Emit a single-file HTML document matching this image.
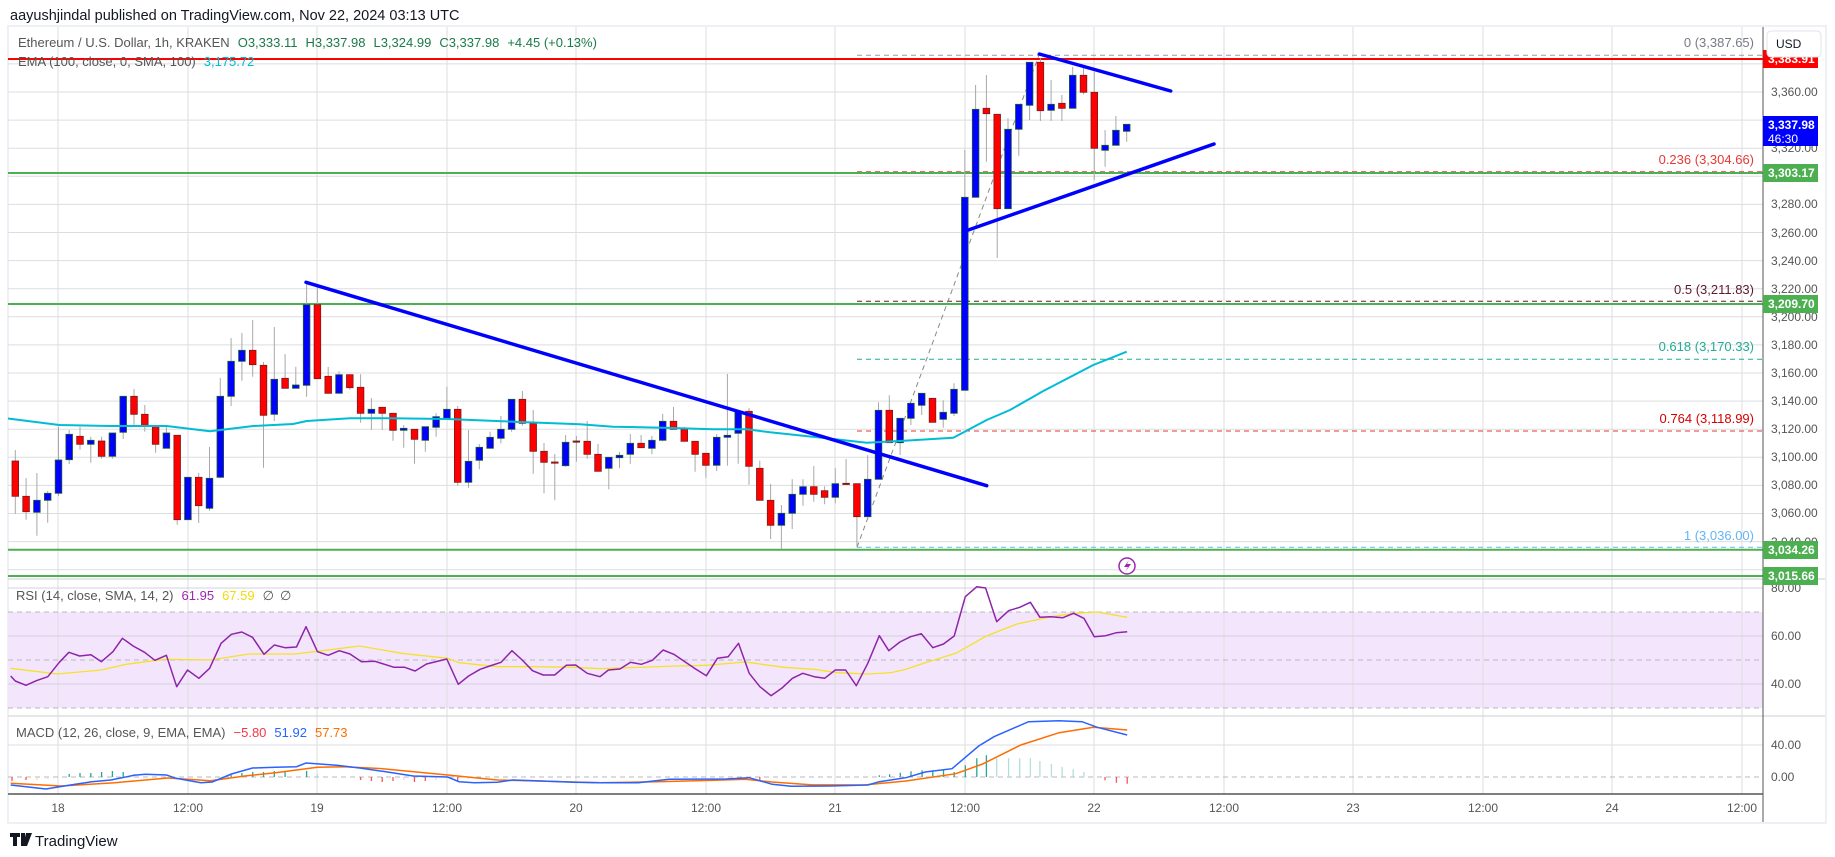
<!DOCTYPE html>
<html><head><meta charset="utf-8"><style>
html,body{margin:0;padding:0;background:#fff;width:1835px;height:857px;overflow:hidden}
svg{display:block;font-family:"Liberation Sans",sans-serif}
</style></head><body>
<svg width="1835" height="857" viewBox="0 0 1835 857" xmlns="http://www.w3.org/2000/svg">
<rect x="0" y="0" width="1835" height="857" fill="#fff"/>
<text x="10" y="20" font-size="14.5" fill="#131722">aayushjindal published on TradingView.com, Nov 22, 2024 03:13 UTC</text>
<rect x="8" y="26" width="1818" height="797" fill="#fff" stroke="#eef0f5" stroke-width="2"/>
<!-- RSI band -->
<rect x="8" y="612" width="1755" height="96" fill="#f3e6fc"/>
<!-- grid -->
<path d="M58 27V794M188 27V794M317 27V794M447 27V794M576 27V794M706 27V794M835 27V794M965 27V794M1094 27V794M1224 27V794M1353 27V794M1483 27V794M1612 27V794M1742 27V794" stroke="#dcdde0" stroke-width="1" fill="none"/>
<path d="M8 63.9H1763M8 92H1763M8 120.1H1763M8 148.2H1763M8 176.3H1763M8 204.4H1763M8 232.5H1763M8 260.6H1763M8 288.7H1763M8 316.8H1763M8 344.9H1763M8 373H1763M8 401.1H1763M8 429.2H1763M8 457.3H1763M8 485.4H1763M8 513.5H1763M8 541.6H1763M8 569.7H1763" stroke="#dcdde0" stroke-width="1" fill="none"/>
<path d="M8 579H1825M8 716H1825" stroke="#dcdde0" stroke-width="1.5"/>
<path d="M8 588H1763M8 636H1763M8 684H1763" stroke="#d3cfe0" stroke-width="1"/>
<path d="M8 612H1763M8 660H1763M8 708H1763M8 777H1763" stroke="#b8b8c0" stroke-width="1" stroke-dasharray="5,4"/>
<path d="M8 745H1763" stroke="#dcdde0" stroke-width="1"/>
<!-- fib lines -->
<g stroke-width="1" stroke-dasharray="5,4">
<line x1="857" y1="55.3" x2="1763" y2="55.3" stroke="#9a9ca4"/>
<line x1="857" y1="171.7" x2="1763" y2="171.7" stroke="#e53935"/>
<line x1="857" y1="301.3" x2="1763" y2="301.3" stroke="#5d1a2f"/>
<line x1="857" y1="359.3" x2="1763" y2="359.3" stroke="#22ab94"/>
<line x1="857" y1="431" x2="1763" y2="431" stroke="#e53935"/>
<line x1="857" y1="547.3" x2="1763" y2="547.3" stroke="#64b5f6"/>
<line x1="857" y1="547.3" x2="1039" y2="55" stroke="#888"/>
</g>
<!-- levels -->
<line x1="8" y1="59" x2="1763" y2="59" stroke="#ff0000" stroke-width="2"/>
<path d="M8 173H1763M8 304H1763M8 549.7H1763M8 576H1763" stroke="#4caf50" stroke-width="2"/>
<!-- wicks -->
<path stroke="#a8a8a8" stroke-width="1" fill="none" d="M15.3 450V514M26.1 478V519.7M36.9 473V535.7M47.7 491V522.7M58.5 426.7V496M69.2 430V464M80 426.7V449.7M90.8 436.7V462.7M101.6 436.7V458.7M112.4 433V458.7M123.2 396.3V439M134 389V425M144.8 405V431.7M155.6 426.3V452.7M166.4 425V448.3M177.2 435.3V524.7M187.9 477.3V519.7M198.7 473V523M209.5 447V510.7M220.3 378V478.3M231.1 338V406M241.9 333V380.7M252.7 320V376.7M263.5 362V467.7M274.3 327V421M285.1 354V388.3M295.8 366.7V388.3M306.6 283.3V396.7M317.4 286.7V378.7M328.2 367V393.3M339 371.3V393.3M349.8 374.7V389.7M360.6 374.3V422.7M371.4 398V430M382.2 407.3V430M393 413.3V440.7M403.7 425V447.7M414.5 429.3V463.7M425.3 426.7V451.7M436.1 413.3V436.7M446.9 386.7V418.3M457.7 406V485.7M468.5 430V487.7M479.3 444V469.3M490.1 431.7V448.3M500.9 416V443.3M511.6 399.3V431.7M522.4 391V425.7M533.2 410V473.7M544 443V493.3M554.8 454V500.3M565.6 435V466.7M576.4 436V461.7M587.2 421V458.7M598 444V471.3M608.8 457.3V489.3M619.5 452V468.3M630.3 434V463.7M641.1 435V447.7M651.9 436V454.3M662.7 413.7V441.3M673.5 407V429.3M684.3 426.7V441.3M695.1 441.3V471.7M705.9 453.3V477.7M716.7 434V471M727.4 374V465.7M738.2 410.3V463.7M749 408V484.7M759.8 460.7V500.3M770.6 484V539M781.4 505V549.3M792.2 479.3V529M803 479.3V505.7M813.8 466V501.7M824.6 486.3V504.3M835.3 468.3V503.3M846.1 459V485M856.9 483.7V546.7M867.7 455V516.7M878.5 402.3V479.3M889.3 395.3V442.7M900.1 418.3V455M910.9 403.3V425M921.7 393.3V415M932.5 398.3V422.3M943.2 400.3V427.7M954 383.3V416M964.8 150V390.3M975.6 85V197.3M986.4 75V161.7M997.2 114.3V258M1008 118.3V208.7M1018.8 104.3V155.7M1029.6 62.3V120M1040.4 58.3V121M1051.1 80V121M1061.9 95V121M1072.7 66.7V108.3M1083.5 67.3V94.3M1094.3 71.7V180M1105.1 130V166.7M1115.9 116V145.3M1126.7 124.3V141.7"/>
<!-- bullish bodies -->
<g fill="#0000ff" stroke="#1e5a2e" stroke-width="0.8">
<rect x="33.6" y="500.3" width="6.6" height="12"/>
<rect x="44.4" y="493.3" width="6.6" height="7"/>
<rect x="55.2" y="460" width="6.6" height="33.3"/>
<rect x="65.9" y="434.3" width="6.6" height="25.4"/>
<rect x="87.5" y="440.3" width="6.6" height="4"/>
<rect x="109.1" y="433" width="6.6" height="23.3"/>
<rect x="119.9" y="396.3" width="6.6" height="36"/>
<rect x="163.1" y="433" width="6.6" height="15.3"/>
<rect x="184.6" y="477.3" width="6.6" height="42.4"/>
<rect x="206.2" y="478.3" width="6.6" height="30"/>
<rect x="217" y="396.3" width="6.6" height="81"/>
<rect x="227.8" y="361.3" width="6.6" height="35"/>
<rect x="238.6" y="350.3" width="6.6" height="11"/>
<rect x="271" y="379.3" width="6.6" height="35"/>
<rect x="292.5" y="385" width="6.6" height="3.3"/>
<rect x="303.3" y="304.7" width="6.6" height="80.6"/>
<rect x="335.7" y="374.7" width="6.6" height="18.6"/>
<rect x="368.1" y="409.3" width="6.6" height="4"/>
<rect x="400.4" y="428.3" width="6.6" height="2"/>
<rect x="422" y="426.7" width="6.6" height="13.6"/>
<rect x="432.8" y="416.7" width="6.6" height="10.6"/>
<rect x="443.6" y="409.3" width="6.6" height="9"/>
<rect x="465.2" y="461.3" width="6.6" height="21"/>
<rect x="476" y="447.3" width="6.6" height="13"/>
<rect x="486.8" y="437.3" width="6.6" height="11"/>
<rect x="497.6" y="429.3" width="6.6" height="9"/>
<rect x="508.3" y="399.3" width="6.6" height="30"/>
<rect x="562.3" y="442.3" width="6.6" height="23.4"/>
<rect x="605.5" y="457.3" width="6.6" height="11"/>
<rect x="616.2" y="455.3" width="6.6" height="2.4"/>
<rect x="627" y="443.3" width="6.6" height="11"/>
<rect x="648.6" y="440.3" width="6.6" height="8"/>
<rect x="659.4" y="421.3" width="6.6" height="19"/>
<rect x="713.4" y="437.3" width="6.6" height="28"/>
<rect x="724.1" y="435.3" width="6.6" height="2"/>
<rect x="734.9" y="412" width="6.6" height="21.3"/>
<rect x="778.1" y="513.3" width="6.6" height="12"/>
<rect x="788.9" y="494.3" width="6.6" height="19"/>
<rect x="799.7" y="486.7" width="6.6" height="7.6"/>
<rect x="832" y="483.7" width="6.6" height="13.6"/>
<rect x="864.4" y="479.3" width="6.6" height="37.4"/>
<rect x="875.2" y="410.3" width="6.6" height="69"/>
<rect x="896.8" y="418.3" width="6.6" height="24.4"/>
<rect x="907.6" y="403.3" width="6.6" height="15"/>
<rect x="918.4" y="393.3" width="6.6" height="12"/>
<rect x="939.9" y="412.3" width="6.6" height="7"/>
<rect x="950.7" y="389.3" width="6.6" height="24"/>
<rect x="961.5" y="197.3" width="6.6" height="193"/>
<rect x="972.3" y="109.3" width="6.6" height="88"/>
<rect x="1004.7" y="129.3" width="6.6" height="79.4"/>
<rect x="1015.5" y="104.3" width="6.6" height="25"/>
<rect x="1026.3" y="62.3" width="6.6" height="43"/>
<rect x="1047.8" y="104.3" width="6.6" height="6"/>
<rect x="1069.4" y="75.3" width="6.6" height="33"/>
<rect x="1101.8" y="145.3" width="6.6" height="5"/>
<rect x="1112.6" y="130.3" width="6.6" height="15"/>
<rect x="1123.4" y="124.3" width="6.6" height="7"/>
</g>
<!-- bearish bodies -->
<g fill="#ff0000" stroke="#7a1a1a" stroke-width="0.8">
<rect x="12" y="461" width="6.6" height="35.3"/>
<rect x="22.8" y="496.3" width="6.6" height="15.4"/>
<rect x="76.7" y="436.3" width="6.6" height="8"/>
<rect x="98.3" y="441" width="6.6" height="15.3"/>
<rect x="130.7" y="396.3" width="6.6" height="18"/>
<rect x="141.5" y="414.3" width="6.6" height="12"/>
<rect x="152.3" y="426.3" width="6.6" height="18"/>
<rect x="173.9" y="435.3" width="6.6" height="84.4"/>
<rect x="195.4" y="477.3" width="6.6" height="28.4"/>
<rect x="249.4" y="350.3" width="6.6" height="14.4"/>
<rect x="260.2" y="365.3" width="6.6" height="50"/>
<rect x="281.8" y="378.3" width="6.6" height="10"/>
<rect x="314.1" y="304.7" width="6.6" height="74"/>
<rect x="324.9" y="376.3" width="6.6" height="17"/>
<rect x="346.5" y="374.7" width="6.6" height="13"/>
<rect x="357.3" y="387.3" width="6.6" height="26"/>
<rect x="378.9" y="407.3" width="6.6" height="6"/>
<rect x="389.7" y="413.3" width="6.6" height="17"/>
<rect x="411.2" y="429.3" width="6.6" height="10"/>
<rect x="454.4" y="409.3" width="6.6" height="73"/>
<rect x="519.1" y="399.3" width="6.6" height="24"/>
<rect x="529.9" y="423.3" width="6.6" height="28"/>
<rect x="540.7" y="451.3" width="6.6" height="11"/>
<rect x="551.5" y="462" width="6.6" height="1.2"/>
<rect x="573.1" y="441" width="6.6" height="1.2" fill="#7a1a1a"/>
<rect x="583.9" y="441.3" width="6.6" height="13"/>
<rect x="594.7" y="454.3" width="6.6" height="17"/>
<rect x="637.8" y="443.3" width="6.6" height="4.4"/>
<rect x="670.2" y="421.3" width="6.6" height="8"/>
<rect x="681" y="429.3" width="6.6" height="12"/>
<rect x="691.8" y="441.3" width="6.6" height="13"/>
<rect x="702.6" y="453.3" width="6.6" height="12"/>
<rect x="745.7" y="411.3" width="6.6" height="55"/>
<rect x="756.5" y="468.3" width="6.6" height="32"/>
<rect x="767.3" y="500.3" width="6.6" height="25"/>
<rect x="810.5" y="486.7" width="6.6" height="7.6"/>
<rect x="821.3" y="490.7" width="6.6" height="6.6"/>
<rect x="842.8" y="483.3" width="6.6" height="1.2" fill="#7a1a1a"/>
<rect x="853.6" y="483.7" width="6.6" height="33"/>
<rect x="886" y="410.3" width="6.6" height="32.4"/>
<rect x="929.2" y="398.3" width="6.6" height="24"/>
<rect x="983.1" y="108.3" width="6.6" height="5.4"/>
<rect x="993.9" y="114.3" width="6.6" height="94.4"/>
<rect x="1037.1" y="62.3" width="6.6" height="48.4"/>
<rect x="1058.6" y="103.3" width="6.6" height="5"/>
<rect x="1080.2" y="75.3" width="6.6" height="17"/>
<rect x="1091" y="92.3" width="6.6" height="56"/>
</g>
<!-- EMA -->
<polyline fill="none" stroke="#00bcd4" stroke-width="2" stroke-linejoin="round" points="8,418.5 59.3,425 110,426 166.7,426 210,431.3 253.3,426 293,424 306.7,421 350,418.3 390,418.3 446.7,419 513.3,421.7 580,424.3 613,426.7 663,427.7 713,429.3 746.7,429.3 770,432.3 826.7,438.3 866.7,442.7 900,441 953.3,437.7 986.7,420 1010,410 1043.3,391 1093.3,365 1126.7,351.7"/>
<!-- trend lines -->
<g stroke="#0000ff" stroke-width="3.5" stroke-linecap="round">
<line x1="306" y1="282.3" x2="986.7" y2="485.7"/>
<line x1="1039.3" y1="54" x2="1170.7" y2="91"/>
<line x1="968.3" y1="230" x2="1214" y2="144"/>
</g>
<!-- RSI -->
<polyline fill="none" stroke="#f5e12a" stroke-width="1.3" points="10.7,668.3 57.4,674 101.4,670 126.2,664.3 164.5,659.3 210.4,660 248.7,654 294.6,654 317.5,651.3 359.6,646 401.7,653.3 447.6,658.3 459.1,662.7 497.3,666.7 535.6,666.7 573.8,667.3 600,668.7 676.5,666 707.1,665.3 745.4,662 783.6,667.3 814.2,669.3 837.2,672.7 867.8,674 890.7,672.7 906,669.3 925.2,662.7 955.8,653.3 986.4,636 1017,624 1051.4,616.7 1074.4,613.3 1097.3,612 1127.2,617.3"/>
<polyline fill="none" stroke="#8e24aa" stroke-width="1.5" stroke-linejoin="round" points="10.7,676 15.3,681 26,685.3 36.3,680.7 47.8,676.7 59.3,662.3 68.9,652.3 79.6,656 91,654.7 101.4,661.7 112.9,651.7 122.4,638.3 133.1,646 144.6,652.3 154.9,660.3 166.4,655.3 176.7,686.7 187.5,670 198.9,678.3 209.6,668.3 221.1,643.3 231.4,634.3 241.8,632 252.5,637.3 264,654.3 274.3,645 285,647.7 296.5,647 306,626.7 317.5,651.7 328.2,655.3 339.3,650.7 350,654 361.5,661.7 374.9,661.3 394,667.3 404.7,667.3 415.1,671 426.5,664 446.8,659 458.3,684.3 468.6,676 480.1,669.3 489.7,666 501.1,662.3 511.9,650.7 522.2,660 532.5,670.7 543.2,675 554.7,675 566.2,665.3 575.7,665 587.2,673.3 600,676.7 608.4,670 619.9,669 630.6,662.3 641.3,664.3 652.4,660.3 663.1,650 673.8,654.3 684.9,661.7 695.6,669 706.4,675.7 717.4,658.3 728.2,656.7 738.5,643.3 749.2,673.3 759.9,686.7 771,695.7 781.7,688.3 792.4,678.3 802.8,673.3 814.2,676.7 824.6,678.3 835.3,670 845.6,670 856.3,685.7 867.8,663.3 879.3,635.7 888.8,650.7 899.9,642 910.6,636.7 921.3,633.7 932.8,647.7 943.5,644 954.2,636 965.3,596.7 976.8,586.7 985.6,588 996.7,621.7 1008.6,610.7 1019.7,607.3 1030.4,602.3 1039.9,617.3 1050.6,616.7 1062.9,617.7 1073.6,613.3 1083.9,618.3 1094.3,636.7 1105.7,635.7 1116.4,632.7 1127.2,631.7"/>
<!-- MACD histogram -->
<g stroke-width="1.3">
<path stroke="#26a69a" d="M69.2 777V774M80 777V773M90.8 777V773M101.6 777V772M112.4 777V771M123.2 777V772M231.1 777V775M241.9 777V773M252.7 777V772M263.5 777V772M274.3 777V771M285.1 777V772M306.6 777V771M879.3 777V775.3M889.6 777V774.3M900.3 777V772.7M911 777V771.3M922.1 777V770.3M932.8 777V770.3M943.5 777V770M954.2 777V772M965.3 777V765.3M976.8 777V758.3M986.4 777V755.3"/>
<path stroke="#b2dfdb" d="M996.7 777V758.3M1008.6 777V758.3M1019.7 777V758.3M1030.4 777V758.3M1039.9 777V761M1051.4 777V764M1062.1 777V766.7M1073.2 777V769.3M1083.9 777V772M134 777V774M317.4 777V774"/>
<path stroke="#ff5252" d="M1105 777V780.3M1116.4 777V782.7M1127.2 777V783.7M12 777V781M26 777V780M360.6 777V780M371.4 777V781M382.2 777V782M393 777V781M414.5 777V782M425.3 777V781M457.7 777V781M759.8 777V780"/>
<path stroke="#ffcdd2" d="M36.9 777V780M47.7 777V779M403.7 777V780M436.1 777V780M468.5 777V779"/>
</g>
<polyline fill="none" stroke="#ff6d00" stroke-width="1.5" points="10.7,783.3 61.2,786 114.8,782.7 168.3,778 210.4,780.7 244.8,776 275.4,772.7 317.5,767.3 344.3,766.7 382.6,768.7 447.6,775 497.3,780 573.8,782 600,782.7 657.4,781.7 714.8,780.3 745.4,779.3 772.2,782 810.4,784.7 864,785 906,781 955.8,773.7 982.6,764 1020.8,745 1059.1,732.7 1093.5,727.3 1127.2,730"/>
<polyline fill="none" stroke="#2962ff" stroke-width="1.5" points="10.7,785 45.9,789 68.9,785.3 91.8,781.7 110.9,780 133.9,775.3 145.4,774.3 166.4,775 176,778.3 200.8,782.7 212.3,782 231.4,774 252.5,768 275.4,767.3 296.5,766.7 306,763 336.6,765.3 359.6,768 382.6,771.3 413.2,776 447.6,777 459.1,781.7 474.4,782.7 497.3,782.3 512.6,780 535.6,780.7 573.8,782.3 600,782.7 638.3,782.7 668.9,779.3 726.2,779 749.2,777.7 772.2,784.3 791.3,786.3 829.5,786 867.8,785 879.3,781.7 906,777.7 925.2,772 952,768.7 978.7,746 994,736.7 1028.5,721.7 1059.1,720.7 1082,721.7 1097.3,727.3 1127.2,735"/>
<!-- legends -->
<text x="18" y="47" font-size="13" fill="#555"><tspan>Ethereum / U.S. Dollar, 1h, KRAKEN</tspan><tspan fill="#1b7a4a" dx="8">O3,333.11</tspan><tspan fill="#1b7a4a" dx="8">H3,337.98</tspan><tspan fill="#1b7a4a" dx="8">L3,324.99</tspan><tspan fill="#1b7a4a" dx="8">C3,337.98</tspan><tspan fill="#1b7a4a" dx="8">+4.45 (+0.13%)</tspan></text>
<text x="18" y="66" font-size="13" fill="#555">EMA (100, close, 0, SMA, 100)<tspan fill="#00bcd4" dx="8">3,175.72</tspan></text>
<text x="16" y="600" font-size="13" fill="#555">RSI (14, close, SMA, 14, 2)<tspan fill="#9c27b0" dx="8">61.95</tspan><tspan fill="#f5d90a" dx="8">67.59</tspan><tspan fill="#555" dx="8">∅</tspan><tspan fill="#555" dx="6">∅</tspan></text>
<text x="16" y="737" font-size="13" fill="#555">MACD (12, 26, close, 9, EMA, EMA)<tspan fill="#f23645" dx="8">−5.80</tspan><tspan fill="#2962ff" dx="8">51.92</tspan><tspan fill="#ff6d00" dx="8">57.73</tspan></text>
<g font-size="13" text-anchor="end">
<text x="1754" y="47" fill="#787b86">0 (3,387.65)</text>
<text x="1754" y="164" fill="#e53935">0.236 (3,304.66)</text>
<text x="1754" y="294" fill="#5d1a2f">0.5 (3,211.83)</text>
<text x="1754" y="351" fill="#22ab94">0.618 (3,170.33)</text>
<text x="1754" y="423" fill="#d50000">0.764 (3,118.99)</text>
<text x="1754" y="540" fill="#64b5f6">1 (3,036.00)</text>
</g>
<!-- axes -->
<line x1="1763" y1="27" x2="1763" y2="822" stroke="#555" stroke-width="1"/>
<line x1="8" y1="794" x2="1763" y2="794" stroke="#555" stroke-width="1.5"/>
<g font-size="12" fill="#555">
<text x="1771" y="96">3,360.00</text><text x="1771" y="152">3,320.00</text><text x="1771" y="208">3,280.00</text><text x="1771" y="237">3,260.00</text><text x="1771" y="265">3,240.00</text><text x="1771" y="293">3,220.00</text><text x="1771" y="321">3,200.00</text><text x="1771" y="349">3,180.00</text><text x="1771" y="377">3,160.00</text><text x="1771" y="405">3,140.00</text><text x="1771" y="433">3,120.00</text><text x="1771" y="461">3,100.00</text><text x="1771" y="489">3,080.00</text><text x="1771" y="517">3,060.00</text><text x="1771" y="546">3,040.00</text>
<text x="1771" y="592">80.00</text><text x="1771" y="640">60.00</text><text x="1771" y="688">40.00</text><text x="1771" y="749">40.00</text><text x="1771" y="781">0.00</text>
</g>
<g font-size="12" font-weight="bold" fill="#fff">
<rect x="1763" y="50" width="55" height="18" fill="#ff0000"/><text x="1768" y="63">3,383.91</text>
<rect x="1763" y="116" width="55" height="30" fill="#0000ff"/><text x="1768" y="129">3,337.98</text><text x="1768" y="143" font-weight="normal">46:30</text>
<rect x="1763" y="164" width="55" height="18" fill="#4caf50"/><text x="1768" y="177">3,303.17</text>
<rect x="1763" y="295" width="55" height="18" fill="#4caf50"/><text x="1768" y="308">3,209.70</text>
<rect x="1763" y="541" width="55" height="18" fill="#4caf50"/><text x="1768" y="554">3,034.26</text>
<rect x="1763" y="567" width="55" height="18" fill="#4caf50"/><text x="1768" y="580">3,015.66</text>
</g>
<rect x="1767" y="31" width="54" height="26" rx="4" fill="#fff" stroke="#e0e3eb"/>
<text x="1776" y="48" font-size="12" fill="#131722">USD</text>
<g font-size="12" fill="#555" text-anchor="middle">
<text x="58" y="812">18</text><text x="188" y="812">12:00</text><text x="317" y="812">19</text><text x="447" y="812">12:00</text><text x="576" y="812">20</text><text x="706" y="812">12:00</text><text x="835" y="812">21</text><text x="965" y="812">12:00</text><text x="1094" y="812">22</text><text x="1224" y="812">12:00</text><text x="1353" y="812">23</text><text x="1483" y="812">12:00</text><text x="1612" y="812">24</text><text x="1742" y="812">12:00</text>
</g>
<circle cx="1127" cy="566" r="8" fill="#fff" stroke="#9c27b0" stroke-width="1.5"/>
<path d="M1129 560 L1124 567 L1128 567 L1125 572 L1131 564 L1127 564 Z" fill="#9c27b0"/>
<path d="M10 833 h10 v4 h-3 v9 h-4 v-9 h-3z M21 833 h4 v13 h-4z M26 833 h6 l-5 13 h-4z" fill="#131722"/>
<text x="35" y="846" font-size="15" fill="#131722">TradingView</text>
</svg>
</body></html>
